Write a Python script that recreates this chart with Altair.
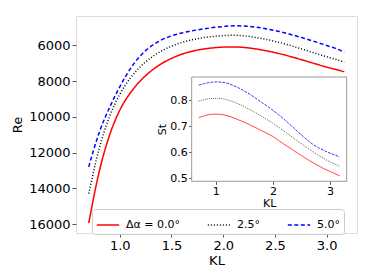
import altair as alt
import pandas as pd

# ---- data ----
kl = [0.7, 0.8, 0.9, 1.0, 1.1, 1.2, 1.3, 1.4, 1.5, 1.6, 1.7, 1.8, 1.9, 2.0,
      2.1, 2.2, 2.3, 2.4, 2.5, 2.6, 2.7, 2.8, 2.9, 3.0, 3.1, 3.17]

re_0 = [15950, 13100, 11050, 9630, 8680, 7980, 7450, 7040, 6730, 6500, 6330, 6215, 6145, 6100,
        6090, 6120, 6190, 6290, 6410, 6550, 6710, 6880, 7050, 7220, 7370, 7480]
re_25 = [14300, 11800, 10000, 8750, 7850, 7190, 6700, 6330, 6050, 5840, 5690, 5580, 5505, 5460,
         5440, 5470, 5545, 5650, 5780, 5930, 6100, 6280, 6460, 6640, 6810, 6940]
re_50 = [12800, 10900, 9500, 8320, 7330, 6580, 6060, 5710, 5470, 5310, 5190, 5090, 5010, 4950,
         4910, 4920, 4970, 5060, 5170, 5310, 5470, 5640, 5820, 6010, 6200, 6380]

st_0 = [0.733, 0.740, 0.745, 0.746, 0.745, 0.740, 0.733, 0.724, 0.715, 0.705, 0.694, 0.683, 0.672,
        0.660, 0.645, 0.630, 0.616, 0.601, 0.587, 0.573, 0.560, 0.548, 0.536, 0.526, 0.516, 0.509]
st_25 = [0.796, 0.802, 0.806, 0.807, 0.806, 0.801, 0.794, 0.785, 0.775, 0.763, 0.751, 0.738, 0.725,
         0.711, 0.696, 0.680, 0.664, 0.648, 0.632, 0.617, 0.602, 0.588, 0.575, 0.563, 0.553, 0.546]
st_50 = [0.858, 0.864, 0.868, 0.870, 0.869, 0.865, 0.857, 0.847, 0.835, 0.822, 0.807, 0.792, 0.777,
         0.761, 0.744, 0.726, 0.706, 0.686, 0.666, 0.647, 0.630, 0.617, 0.606, 0.596, 0.588, 0.581]

labels = ["Δα = 0.0°", "2.5°", "5.0°"]
colors = ["#ff0000", "#000000", "#0000ff"]

main_x_ticks = [1.0, 1.5, 2.0, 2.5, 3.0]
main_y_ticks = [6000, 8000, 10000, 12000, 14000, 16000]
inset_x_ticks = [1, 2, 3]
inset_y_ticks = [0.5, 0.6, 0.7, 0.8]

KL_DOM = [0.577, 3.293]
RE_DOM = [4360, 16500]
ST_DOM = [0.488, 0.889]

rows = []
for lab, re_s, st_s in zip(labels, [re_0, re_25, re_50], [st_0, st_25, st_50]):
    for k, r, s in zip(kl, re_s, st_s):
        rows.append({"KL": k, "Re": r, "St": s, "series": lab})
df = pd.DataFrame(rows)
frame_df = pd.DataFrame({"x0": [KL_DOM[0]], "x1": [KL_DOM[1]],
                         "y0": [ST_DOM[0]], "y1": [ST_DOM[1]]})

FONT = "DejaVu Sans"
W, H = 281, 217
INSET_L, INSET_R, INSET_T, INSET_B = 115.7, 270.7, 61.0, 165.3

common_axis = dict(grid=False, domain=False, tickColor="#555", labelColor="#000",
                   titleColor="#000", titleFontWeight="normal", labelFont=FONT, titleFont=FONT)

legend = alt.Legend(title=None, orient="none", legendX=16, legendY=193,
                    direction="horizontal", columns=3, symbolType="stroke",
                    symbolSize=500, symbolStrokeWidth=1.5, labelFontSize=11,
                    labelFont=FONT, labelColor="#000", padding=4,
                    fillColor="rgba(255,255,255,0.8)", strokeColor="#cccccc",
                    cornerRadius=3, columnPadding=24, labelOffset=6)

main = alt.Chart(df).mark_line(strokeWidth=1.5, interpolate="monotone").encode(
    x=alt.X("KL:Q", scale=alt.Scale(domain=KL_DOM, nice=False, zero=False),
            axis=alt.Axis(orient="bottom", values=main_x_ticks, format=".1f", title="KL",
                          tickSize=4, labelPadding=2, labelFontSize=13, titleFontSize=13,
                          titlePadding=2, **common_axis)),
    y=alt.Y("Re:Q", scale=alt.Scale(domain=RE_DOM, reverse=True, nice=False, zero=False),
            axis=alt.Axis(orient="left", values=main_y_ticks, format="d", title="Re",
                          tickSize=4, labelPadding=2, labelFontSize=13, titleFontSize=13,
                          titlePadding=4, **common_axis)),
    color=alt.Color("series:N", scale=alt.Scale(domain=labels, range=colors), legend=legend),
    strokeDash=alt.StrokeDash("series:N",
                              scale=alt.Scale(domain=labels, range=[[1, 0], [1, 2], [4, 2.5]]),
                              legend=legend),
)

inset_x = alt.Scale(domain=KL_DOM, range=[INSET_L, INSET_R], nice=False, zero=False)
inset_y = alt.Scale(domain=ST_DOM, range=[INSET_B, INSET_T], nice=False, zero=False)

frame = alt.Chart(frame_df).mark_rect(fill="white", stroke="#999999", strokeWidth=1).encode(
    x=alt.X("x0:Q", scale=inset_x, axis=None), x2="x1",
    y=alt.Y("y0:Q", scale=inset_y, axis=None), y2="y1",
)

inset = alt.Chart(df).mark_line(strokeWidth=0.8, interpolate="monotone").encode(
    x=alt.X("KL:Q", scale=inset_x,
            axis=alt.Axis(orient="bottom", offset=-(H - INSET_B), values=inset_x_ticks,
                          format="d", title="KL", tickSize=3, labelPadding=1.5,
                          labelFontSize=11, titleFontSize=11, titlePadding=1, **common_axis)),
    y=alt.Y("St:Q", scale=inset_y,
            axis=alt.Axis(orient="left", offset=-INSET_L, values=inset_y_ticks,
                          format=".1f", title="St", tickSize=3, labelPadding=1.5,
                          labelFontSize=11, titleFontSize=11, titlePadding=2, **common_axis)),
    color=alt.Color("series:N", scale=alt.Scale(domain=labels, range=colors), legend=None),
    strokeDash=alt.StrokeDash("series:N",
                              scale=alt.Scale(domain=labels, range=[[1, 0], [0.8, 1.3], [2.8, 1.2]]),
                              legend=None),
)

chart = alt.layer(main, frame, inset).resolve_scale(
    x="independent", y="independent", color="independent", strokeDash="independent"
).properties(
    width=W, height=H,
    padding={"left": 68, "top": 8, "right": 9, "bottom": 39},
    autosize=alt.AutoSizeParams(type="none"),
).configure_view(stroke="#666666", strokeWidth=1).configure(font=FONT)

chart.save("out.html", embed_options={"renderer": "svg", "actions": False})
